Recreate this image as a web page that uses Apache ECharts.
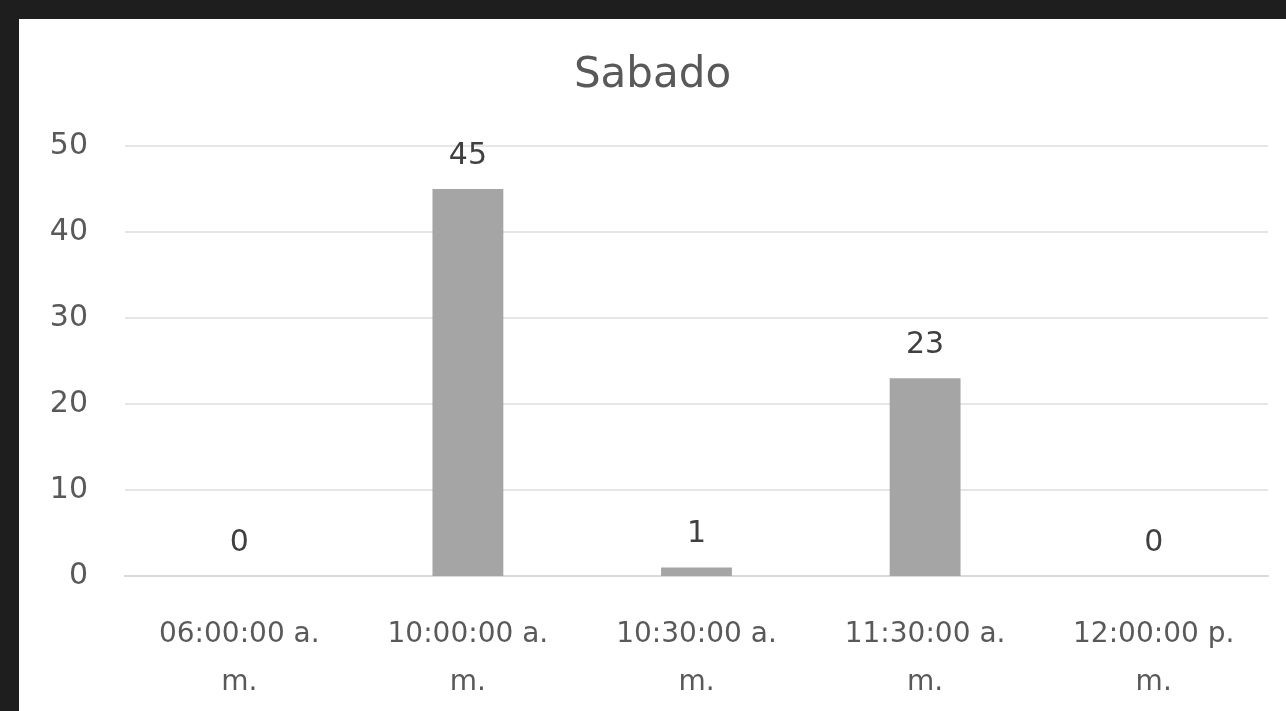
<!DOCTYPE html>
<html><head><meta charset="utf-8">
<script src="https://cdn.jsdelivr.net/npm/echarts@6/dist/echarts.min.js"></script>
<style>
html,body{margin:0;padding:0;background:#1e1e1e;width:1286px;height:711px;overflow:hidden;}
#c{position:absolute;left:19px;top:19px;width:1267px;height:692px;background:#ffffff;}
</style></head><body>
<div id="c"></div>
<script>
const title = "Sabado";
const categories = ["06:00:00 a. m.", "10:00:00 a. m.", "10:30:00 a. m.", "11:30:00 a. m.", "12:00:00 p. m."];
const values = [0, 45, 1, 23, 0];
const yTicks = [0, 10, 20, 30, 40, 50];

const fontFam = "'DejaVu Sans', sans-serif";
const chart = echarts.init(document.getElementById('c'));
chart.setOption({
  backgroundColor: '#ffffff',
  animation: false,
  title: {text: title, left: 'center', top: 31, textStyle: {color: '#595959', fontSize: 42, fontWeight: 'normal', fontFamily: fontFam}},
  grid: {left: 106, right: 18, top: 127, bottom: 135},
  xAxis: {
    type: 'category', data: categories,
    axisLine: {lineStyle: {color: '#d9d9d9', width: 2}},
    axisTick: {show: false},
    axisLabel: {color: '#595959', fontSize: 28, fontFamily: fontFam, margin: 35, lineHeight: 48,
      interval: 0,
      formatter: v => { const i = v.lastIndexOf(' '); return v.slice(0, i) + '\n' + v.slice(i + 1); }}
  },
  yAxis: {
    type: 'value', min: yTicks[0], max: yTicks[yTicks.length - 1], interval: yTicks[1] - yTicks[0],
    axisLine: {show: false}, axisTick: {show: false},
    splitLine: {lineStyle: {color: '#e6e6e6', width: 2}},
    axisLabel: {color: '#595959', fontSize: 30, fontFamily: fontFam, margin: 37}
  },
  series: [{
    type: 'bar', data: values, barWidth: '31%',
    itemStyle: {color: '#a5a5a5'},
    label: {show: true, position: 'top', distance: 18, color: '#404040', fontSize: 30, fontFamily: fontFam}
  }]
});
</script>
</body></html>
